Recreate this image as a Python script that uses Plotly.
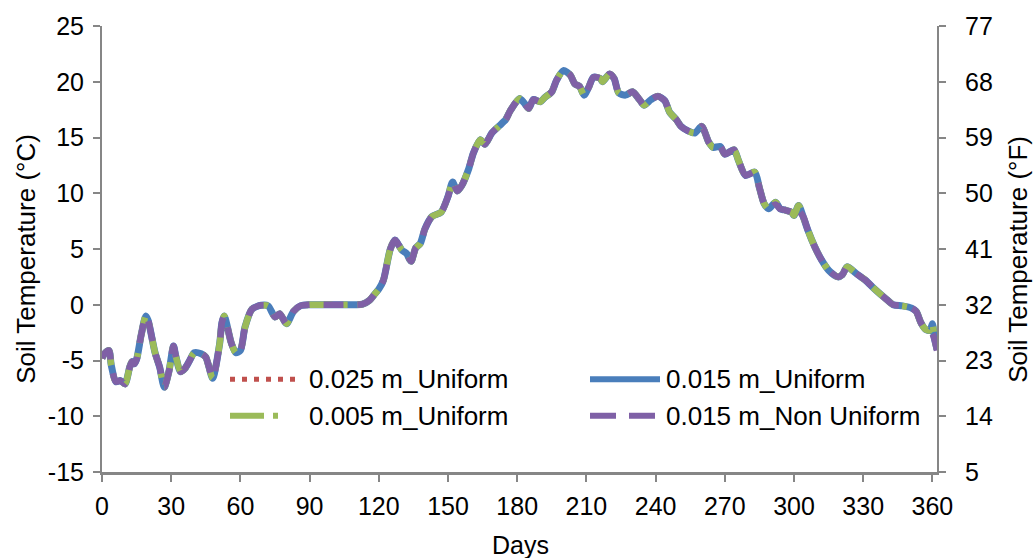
import plotly.graph_objects as go

# ---- data -------------------------------------------------------------
days = [0, 1, 3, 4, 6, 8, 10, 12, 13, 14, 15, 17, 19, 20, 23, 25, 27, 29, 31, 32,
        34, 36, 38, 40, 43, 45, 46, 48, 51, 52, 53, 56, 58, 60, 62, 65, 69, 72, 75, 77,
        80, 83, 86, 90, 100, 110, 113, 116, 118, 120, 122, 125, 127, 130, 132, 134, 136, 138, 140, 143,
        147, 150, 152, 154, 156, 159, 161, 164, 166, 169, 172, 175, 177, 181, 183, 185, 187, 190, 192, 195,
        197, 200, 203, 205, 207, 209, 211, 213, 216, 217, 220, 222, 224, 227, 230, 233, 235, 238, 241, 244,
        246, 249, 251, 254, 257, 260, 263, 265, 268, 270, 274, 276, 279, 283, 285, 287, 289, 292, 294, 296,
        299, 300, 302, 304, 306, 309, 312, 315, 319, 321, 323, 327, 331, 335, 340, 343, 347, 351, 353, 355,
        357, 359, 360, 361, 362]

temp_015_uniform = [-4.8, -4.4, -4.1, -5.4, -6.9, -6.8, -7.1, -5.6, -5.1, -5.3, -4.9, -2.7, -1.0, -1.4, -4.3, -5.6, -7.4, -6.0, -3.7, -4.6,
                    -6.0, -5.7, -5.0, -4.3, -4.4, -4.7, -5.3, -6.6, -3.5, -1.6, -1.0, -3.4, -4.3, -4.1, -2.0, -0.4, -0.05, -0.1, -1.1, -0.8,
                    -1.7, -0.6, -0.1, 0.0, 0.0, 0.0, 0.05, 0.4, 0.9, 1.4, 2.2, 5.0, 5.8, 4.9, 4.6, 3.9, 5.1, 5.5, 6.8, 7.9,
                    8.3, 9.7, 11.0, 10.2, 10.7, 12.2, 13.6, 14.8, 14.4, 15.4, 16.0, 16.6, 17.4, 18.5, 18.1, 17.6, 18.4, 18.2, 18.6, 19.1,
                    20.1, 21.0, 20.6, 19.8, 19.6, 18.8, 19.5, 20.4, 20.3, 20.0, 20.7, 20.3, 19.0, 18.8, 19.1, 18.4, 17.9, 18.4, 18.7, 18.3,
                    17.3, 16.6, 16.0, 15.6, 15.4, 16.0, 14.6, 14.1, 14.2, 13.5, 13.9, 12.9, 11.6, 11.9, 10.5, 9.1, 8.6, 9.2, 8.6, 8.5,
                    8.3, 8.0, 8.9, 7.9, 6.7, 5.2, 4.0, 3.1, 2.5, 2.7, 3.4, 2.8, 2.2, 1.4, 0.5, 0.0, -0.1, -0.3, -0.6, -1.6,
                    -2.2, -2.3, -1.7, -3.1, -4.0]

temp_015_non_uniform = [-4.8, -4.4, -4.1, -5.4, -6.9, -6.8, -7.1, -5.6, -5.1, -5.3, -4.9, -2.7, -1.0, -1.4, -4.3, -5.6, -7.4, -6.0, -3.7, -4.6,
                        -6.0, -5.7, -5.0, -4.3, -4.4, -4.7, -5.3, -6.6, -3.5, -1.6, -1.0, -3.4, -4.3, -4.1, -2.0, -0.4, -0.05, -0.1, -1.1, -0.8,
                        -1.7, -0.6, -0.1, 0.0, 0.0, 0.0, 0.05, 0.4, 0.9, 1.4, 2.2, 5.0, 5.8, 4.9, 4.6, 3.9, 5.1, 5.5, 6.8, 7.9,
                        8.3, 9.7, 11.0, 10.2, 10.7, 12.2, 13.6, 14.8, 14.4, 15.4, 16.0, 16.6, 17.4, 18.5, 18.1, 17.6, 18.4, 18.2, 18.6, 19.1,
                        20.1, 21.0, 20.6, 19.8, 19.6, 18.8, 19.5, 20.4, 20.3, 20.0, 20.7, 20.3, 19.0, 18.8, 19.1, 18.4, 17.9, 18.4, 18.7, 18.3,
                        17.3, 16.6, 16.0, 15.6, 15.4, 16.0, 14.6, 14.1, 14.2, 13.5, 13.9, 12.9, 11.6, 11.9, 10.5, 9.1, 8.6, 9.0, 8.6, 8.5,
                        8.3, 8.0, 8.4, 7.9, 6.7, 5.2, 4.0, 3.1, 2.5, 2.7, 3.4, 2.8, 2.2, 1.4, 0.5, 0.0, -0.1, -0.3, -0.6, -1.6,
                        -2.2, -2.4, -2.6, -3.2, -4.1]

# the 0.025 m and 0.005 m uniform meshes give the same curve as the 0.015 m uniform mesh
temp_025_uniform = list(temp_015_uniform)
temp_005_uniform = list(temp_015_uniform)

series_names = ["0.025 m_Uniform", "0.015 m_Uniform", "0.005 m_Uniform", "0.015 m_Non Uniform"]

x_ticks = [0, 30, 60, 90, 120, 150, 180, 210, 240, 270, 300, 330, 360]
c_ticks = [-15, -10, -5, 0, 5, 10, 15, 20, 25]
c_tick_text = ["-15", "-10", "-5", "0", "5", "10", "15", "20", "25"]
f_ticks = [5, 14, 23, 32, 41, 50, 59, 68, 77]

# ---- styling ----------------------------------------------------------
RED, BLUE, GREEN, PURPLE = "#C0504D", "#4A7EBB", "#9BBB59", "#7F60A6"
AXIS = "#868686"
FONT = "Arial, Liberation Sans, sans-serif"
TXT = "#000000"

W_FIG, H_FIG = 1036, 558
L, R, T, B = 102, 99, 20, 86
PW, PH = W_FIG - L - R, H_FIG - T - B


def px_x(px):
    return (px - L) / PW


def px_y(py):
    return (T + PH - py) / PH


fig = go.Figure()

styles = [
    (temp_025_uniform, series_names[0], RED, 5, "5px,7px"),
    (temp_015_uniform, series_names[1], BLUE, 7, "solid"),
    (temp_005_uniform, series_names[2], GREEN, 6.5, "26px,10px,5px,10px"),
    (temp_015_non_uniform, series_names[3], PURPLE, 6.5, "20px,14px"),
]
for vals, name, color, width, dash in styles:
    fig.add_trace(go.Scatter(
        x=days, y=vals, name=name, mode="lines",
        line=dict(color=color, width=width, dash=dash, shape="spline", smoothing=0.7),
        showlegend=False,
    ))

# Fahrenheit scale for the secondary axis (no visible marks)
temp_015_uniform_f = [c * 1.8 + 32 for c in temp_015_uniform]
fig.add_trace(go.Scatter(x=days, y=temp_015_uniform_f, yaxis="y2", mode="none",
                         hoverinfo="skip", showlegend=False))

# ---- legend drawn as line samples + labels ----------------------------
legend_rows = [378, 415]
legend_cols = [(230, 297, 307), (590, 660, 664)]
legend_items = [
    (0, 0, series_names[0], RED, 5, "5px,7px"),
    (0, 1, series_names[1], BLUE, 6, "solid"),
    (1, 0, series_names[2], GREEN, 6, "34px,9px,5px,40px"),
    (1, 1, series_names[3], PURPLE, 6, "26px,13px"),
]
for row, col, name, color, width, dash in legend_items:
    x0, x1, xt = legend_cols[col]
    yy = legend_rows[row]
    fig.add_shape(type="line", xref="paper", yref="paper",
                  x0=px_x(x0), x1=px_x(x1), y0=px_y(yy), y1=px_y(yy),
                  line=dict(color=color, width=width, dash=dash))
    fig.add_annotation(xref="paper", yref="paper", x=px_x(xt), y=px_y(yy),
                       text=name, showarrow=False, xanchor="left", yanchor="middle",
                       font=dict(family=FONT, size=26, color=TXT))

# ---- axis titles -------------------------------------------------------
fig.add_annotation(xref="paper", yref="paper", x=px_x(26), y=px_y(256),
                   text="Soil Temperature (°C)", textangle=-90, showarrow=False,
                   xanchor="center", yanchor="middle", font=dict(family=FONT, size=26, color=TXT))
fig.add_annotation(xref="paper", yref="paper", x=px_x(1018), y=px_y(256),
                   text="Soil Temperature (°F)", textangle=-90, showarrow=False,
                   xanchor="center", yanchor="middle", font=dict(family=FONT, size=26, color=TXT))
fig.add_annotation(xref="paper", yref="paper", x=px_x(520), y=px_y(546),
                   text="Days", showarrow=False,
                   xanchor="center", yanchor="middle", font=dict(family=FONT, size=25, color=TXT))

axis_common = dict(showline=True, linecolor=AXIS, linewidth=2, showgrid=False,
                   zeroline=False, ticks="outside", tickcolor=AXIS, ticklen=7, tickwidth=1.5,
                   tickfont=dict(family=FONT, size=25, color=TXT))

fig.update_layout(
    width=W_FIG, height=H_FIG,
    margin=dict(l=L, r=R, t=T, b=B),
    paper_bgcolor="white", plot_bgcolor="white",
    showlegend=False,
    xaxis=dict(range=[0, 362], tickvals=x_ticks, ticklabelstandoff=3,
               **{**axis_common, "linewidth": 2.5}),
    yaxis=dict(range=[-15, 25], tickvals=c_ticks, ticktext=c_tick_text, ticklabelstandoff=4,
               **axis_common),
    yaxis2=dict(range=[5, 77], tickvals=f_ticks, overlaying="y", side="right", anchor="x",
                ticklabelstandoff=14, **axis_common),
)

fig.write_html("out.html")
